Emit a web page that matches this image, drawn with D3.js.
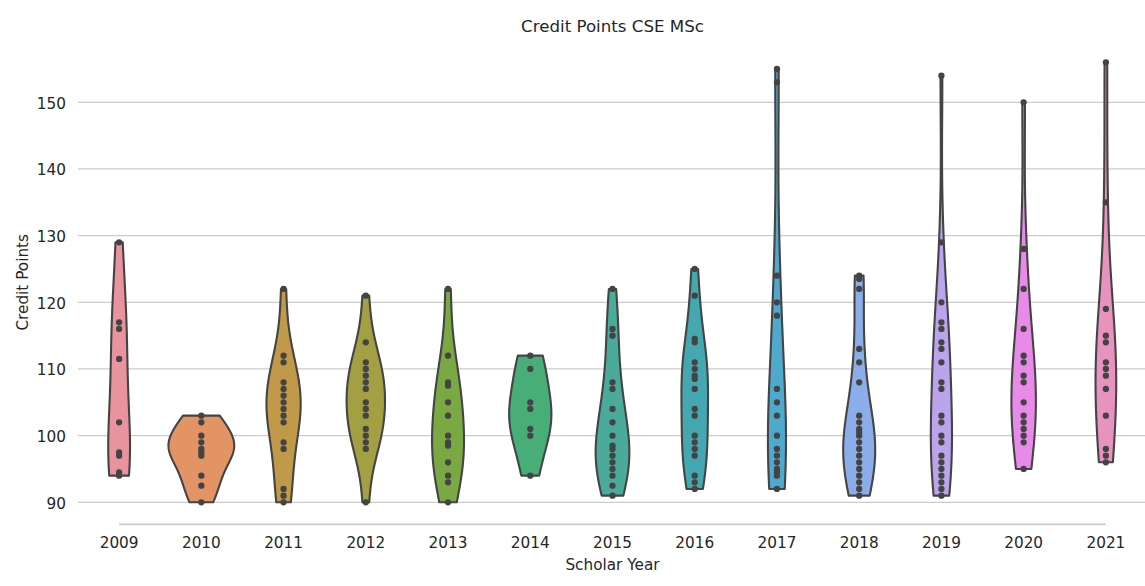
<!DOCTYPE html>
<html>
<head>
<meta charset="utf-8">
<script src="https://cdn.jsdelivr.net/npm/d3@7"></script>
<style>
  html, body { margin: 0; padding: 0; background: #ffffff; }
  svg { display: block; font-family: "DejaVu Sans", sans-serif; }
</style>
</head>
<body>
<svg id="chart" width="1145" height="586"></svg>
<script>
// Scholar years (categories)
const years = ["2009", "2010", "2011", "2012", "2013", "2014", "2015",
               "2016", "2017", "2018", "2019", "2020", "2021"];

// Credit points obtained per student, one list per scholar year
const cp2009 = [129, 117, 116, 111.5, 102, 97.5, 97, 94.5, 94];
const cp2010 = [103, 102, 100, 99, 98, 97.5, 97, 94, 92.5, 90];
const cp2011 = [122, 112, 111, 108, 107, 106, 105, 104, 103, 102, 99, 98, 92, 91, 90];
const cp2012 = [121, 114, 111, 110, 109, 108, 107, 105, 104, 103, 101, 100, 99, 98, 90];
const cp2013 = [122, 112, 108, 107.5, 105, 103, 100, 99, 98.5, 96, 94, 93, 90];
const cp2014 = [112, 110, 105, 104, 101, 100, 94];
const cp2015 = [122, 116, 115, 108, 107, 104, 102, 100, 98.5, 98, 97, 96, 95, 94, 92.5, 91];
const cp2016 = [125, 121, 114.5, 114, 111, 110, 109, 108.5, 107, 104, 103, 100, 99, 98, 97, 94, 93, 92];
const cp2017 = [155, 153, 124, 120, 118, 107, 105, 103, 100, 98, 97, 96, 95, 94.5, 94, 92];
const cp2018 = [124, 123.5, 122, 113, 111, 108, 103, 102, 101, 100.5, 100, 99, 98, 97, 96, 95, 94, 93, 92, 91];
const cp2019 = [154, 129, 120, 117, 116, 114, 113, 111, 108, 107, 103, 102, 100, 99, 97, 96, 95, 94, 93, 92, 91];
const cp2020 = [150, 128, 122, 116, 112, 111, 109, 108, 105, 103, 102, 101, 100, 99, 95];
const cp2021 = [156, 135, 119, 115, 114, 111, 110, 109, 107, 103, 98, 97, 96];

const creditPoints = [cp2009, cp2010, cp2011, cp2012, cp2013, cp2014, cp2015,
                      cp2016, cp2017, cp2018, cp2019, cp2020, cp2021];

// Y axis tick values
const yTicks = [90, 100, 110, 120, 130, 140, 150];

// Fill colour of each year's violin (soft rainbow)
const colors = ["#e8939e", "#e29464", "#c09a48", "#a2a042", "#7aa944", "#48ae78", "#4aab9b",
                "#45a8b0", "#4ea9cc", "#8caee8", "#bba4ec", "#e88ae8", "#e893be"];

// Outline / point colour: a gray derived from the darkest fill
const lum = d3.min(colors, c => d3.hsl(c).l) * 0.6;
const gray = d3.rgb(lum * 255, lum * 255, lum * 255).formatHex();

// ---------- layout ----------
const svg = d3.select("#chart");
const plotLeft = 78, plotRight = 1147;

const x = d3.scaleBand().domain(years).range([plotLeft, plotRight]).padding(0);
const y = d3.scaleLinear().domain([90, 150]).range([502.3, 102.3]);
const axisBottomY = y(86.7);

// ---------- gridlines ----------
svg.append("g").attr("class", "grid")
  .selectAll("line").data(yTicks).join("line")
  .attr("x1", plotLeft).attr("x2", plotRight)
  .attr("y1", d => y(d)).attr("y2", d => y(d))
  .attr("stroke", "#cccccc").attr("stroke-width", 1.3);

// ---------- kernel density (Gaussian, Scott's rule, cut at data range) ----------
const gridsize = 100;
const densities = creditPoints.map(vals => {
  const n = vals.length;
  const sd = d3.deviation(vals);
  const bw = sd * Math.pow(n, -1 / 5);
  const lo = d3.min(vals), hi = d3.max(vals);
  const norm = 1 / (n * bw * Math.sqrt(2 * Math.PI));
  return d3.range(gridsize).map(k => {
    const v = lo + (hi - lo) * k / (gridsize - 1);
    const d = d3.sum(vals, xi => Math.exp(-0.5 * Math.pow((v - xi) / bw, 2))) * norm;
    return { v, d };
  });
});
// every violin shares one width scale, so all enclose the same area
const maxDensity = d3.max(densities, ds => d3.max(ds, p => p.d));
const halfWidth = d3.scaleLinear().domain([0, maxDensity]).range([0, x.bandwidth() * 0.4]);

// ---------- violins with inner points ----------
const violins = svg.append("g").attr("class", "violins");
years.forEach((yr, i) => {
  const cx = x(yr) + x.bandwidth() / 2;
  const area = d3.area()
    .y(p => y(p.v))
    .x0(p => cx - halfWidth(p.d))
    .x1(p => cx + halfWidth(p.d));
  const g = violins.append("g");
  g.append("path")
    .attr("d", area(densities[i]))
    .attr("fill", colors[i])
    .attr("stroke", gray)
    .attr("stroke-width", 2.1)
    .attr("stroke-linejoin", "round");
  g.selectAll("circle").data(creditPoints[i]).join("circle")
    .attr("cx", cx)
    .attr("cy", d => y(d))
    .attr("r", 2.1)
    .attr("fill", gray)
    .attr("stroke", gray)
    .attr("stroke-width", 2.1);
});

// ---------- axes ----------
const xAxis = svg.append("g")
  .attr("transform", `translate(0,${axisBottomY})`)
  .call(d3.axisBottom(x).tickSize(0).tickPadding(12.5));
xAxis.select(".domain").remove();
xAxis.selectAll("text")
  .attr("font-family", "DejaVu Sans")
  .attr("font-size", 15.28)
  .attr("fill", "#262626");

// trimmed bottom spine, first to last category
svg.append("line")
  .attr("x1", x(years[0]) + x.bandwidth() / 2)
  .attr("x2", x(years[years.length - 1]) + x.bandwidth() / 2)
  .attr("y1", axisBottomY).attr("y2", axisBottomY)
  .attr("stroke", "#cccccc").attr("stroke-width", 1.7);

const yAxis = svg.append("g")
  .attr("transform", `translate(${plotLeft},0)`)
  .call(d3.axisLeft(y).tickValues(yTicks).tickSize(0).tickPadding(12));
yAxis.select(".domain").remove();
yAxis.selectAll("text")
  .attr("dy", "0.38em")
  .attr("font-family", "DejaVu Sans")
  .attr("font-size", 15.28)
  .attr("fill", "#262626");

// ---------- labels ----------
svg.append("text")
  .attr("x", (plotLeft + plotRight) / 2).attr("y", 32)
  .attr("text-anchor", "middle")
  .attr("font-size", 16.67).attr("fill", "#262626")
  .text("Credit Points CSE MSc");

svg.append("text")
  .attr("x", (plotLeft + plotRight) / 2).attr("y", 569.5)
  .attr("text-anchor", "middle")
  .attr("font-size", 15.28).attr("fill", "#262626")
  .text("Scholar Year");

svg.append("text")
  .attr("transform", `translate(27.5,${(y(86.7) + y(159.3)) / 2}) rotate(-90)`)
  .attr("text-anchor", "middle")
  .attr("font-size", 15.28).attr("fill", "#262626")
  .text("Credit Points");
</script>
</body>
</html>
